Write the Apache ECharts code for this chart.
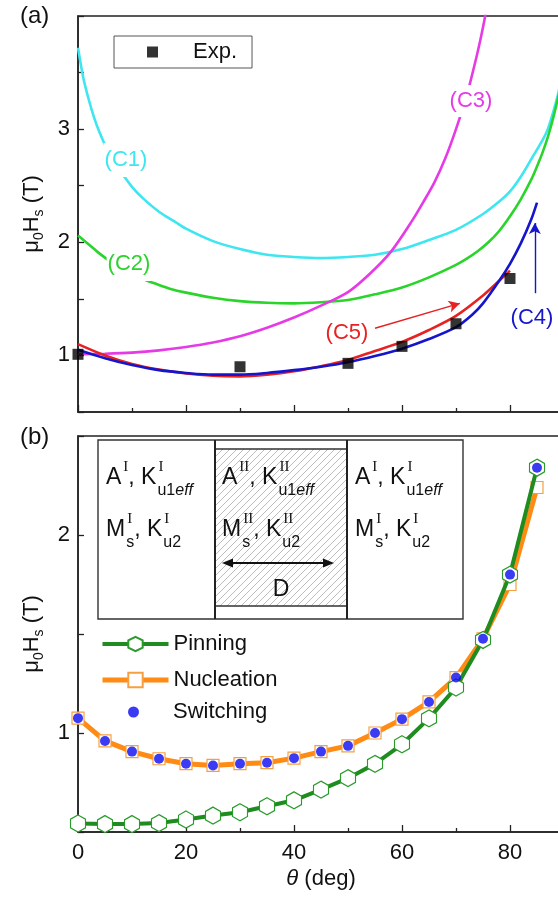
<!DOCTYPE html>
<html><head><meta charset="utf-8">
<script src="https://cdn.jsdelivr.net/npm/echarts@6/dist/echarts.min.js"></script>
<style>html,body{margin:0;padding:0;background:#fff}#c{width:558px;height:901px}</style>
</head><body><div id="c"></div>
<script>
const FONT = '"Liberation Sans", Arial, sans-serif';
const SERIF = '"Liberation Serif", "Times New Roman", serif';

// ---------- Panel (a) data: [theta, mu0Hs] ----------
const curveC1 = [[0,3.72],[1,3.45],[2,3.26],[3,3.10],[4,2.97],[6,2.76],[8,2.62],[10,2.49],[12,2.39],[15,2.27],[18,2.18],[20,2.12],[25,2.01],[30,1.94],[35,1.89],[40,1.87],[45,1.86],[50,1.87],[55,1.89],[60,1.94],[65,2.02],[70,2.11],[75,2.25],[78,2.36],[80,2.45],[82,2.58],[84,2.74],[86,2.90],[87,3.0],[88,3.15],[89,3.33],[90,3.6]];
const curveC2 = [[0,2.06],[1,2.02],[2,1.98],[3,1.94],[4,1.90],[6,1.83],[8,1.77],[10,1.72],[12,1.675],[14,1.64],[17,1.59],[20,1.555],[25,1.51],[30,1.48],[35,1.465],[40,1.46],[45,1.47],[50,1.49],[55,1.54],[60,1.60],[65,1.69],[70,1.80],[72,1.855],[74,1.92],[76,2.0],[78,2.10],[80,2.23],[82,2.38],[84,2.56],[85,2.67],[86,2.79],[87,2.93],[88,3.10],[89,3.30],[90,3.55]];
const curveC3 = [[0,1.01],[5,1.015],[10,1.025],[15,1.045],[20,1.075],[25,1.115],[30,1.17],[35,1.245],[40,1.335],[45,1.44],[50,1.56],[54,1.72],[58,1.92],[62,2.2],[64,2.36],[66,2.53],[68,2.74],[70,3.0],[72,3.3],[74,3.68],[75,3.9],[76,4.15]];
const curveC4 = [[0,1.05],[5,0.975],[10,0.915],[15,0.87],[20,0.845],[25,0.83],[30,0.83],[35,0.845],[40,0.87],[45,0.90],[50,0.94],[55,0.995],[60,1.06],[65,1.145],[70,1.25],[73,1.36],[75,1.46],[78,1.66],[80,1.81],[82,1.99],[84,2.21],[85,2.35]];
const curveC5 = [[0,1.10],[5,1.0],[10,0.925],[15,0.875],[20,0.84],[25,0.82],[30,0.815],[35,0.83],[40,0.86],[45,0.905],[50,0.96],[55,1.04],[60,1.12],[65,1.225],[70,1.35],[75,1.53],[78,1.66],[80,1.75]];
const expTheta = [0, 30, 50, 60, 70, 80];
const expH = [1.01, 0.90, 0.93, 1.08, 1.28, 1.68];
const arrowC5 = [[55, 1.24], [70.7, 1.46]];
const arrowC4 = [[84.6, 1.55], [84.6, 2.17]];

// ---------- Panel (b) data ----------
const thetaB = [0,5,10,15,20,25,30,35,40,45,50,55,60,65,70,75,80,85];
const pinning = [0.543,0.54,0.54,0.545,0.563,0.583,0.60,0.63,0.66,0.714,0.772,0.844,0.943,1.074,1.23,1.47,1.80,2.34];
const nucleation = [1.075,0.96,0.906,0.87,0.845,0.836,0.845,0.85,0.873,0.906,0.935,1.0,1.07,1.157,1.28,1.476,1.75,2.24];
const switching = [1.075,0.96,0.906,0.87,0.845,0.836,0.845,0.85,0.873,0.906,0.935,1.0,1.07,1.157,1.28,1.476,1.80,2.34];

const xTicks = [0, 20, 40, 60, 80];
const yTicksA = [1, 2, 3];
const yTicksB = [1, 2];

const zip = (a, b) => a.map((v, i) => [v, b[i]]);

const AXC = '#222';
function xAxisCfg(gi, showLabels) {
  return {
    type: 'value', gridIndex: gi, min: 0, max: 90, interval: 20,
    axisLine: { show: true, onZero: false, lineStyle: { color: AXC, width: 1.5 } },
    axisTick: { show: true, inside: true, length: 7, lineStyle: { color: AXC, width: 1.3 } },
    minorTick: { show: true, splitNumber: 2, length: 4, lineStyle: { color: AXC, width: 1.3 } },
    splitLine: { show: false },
    axisLabel: { show: showLabels, fontSize: 22, fontFamily: FONT, color: '#111', margin: 10,
      formatter: v => xTicks.indexOf(v) >= 0 ? String(v) : '' },
    name: showLabels ? '{i|θ}{m| (deg)}' : '',
    nameLocation: 'middle', nameGap: 36,
    nameTextStyle: { rich: {
      i: { fontSize: 22, fontStyle: 'italic', fontFamily: FONT, color: '#111' },
      m: { fontSize: 22, fontFamily: FONT, color: '#111' } } }
  };
}
function yAxisCfg(gi, max, labels) {
  return {
    type: 'value', gridIndex: gi, min: 0.5, max: max, interval: 0.5,
    axisLine: { show: true, onZero: false, lineStyle: { color: AXC, width: 1.5 } },
    axisTick: { show: true, inside: true, length: 6, lineStyle: { color: AXC, width: 1.3 } },
    splitLine: { show: false },
    axisLabel: { fontSize: 22, fontFamily: FONT, color: '#111', margin: 8,
      formatter: v => labels.some(t => Math.abs(t - v) < 1e-6) ? String(Math.round(v)) : '' },
    name: '{m|μ}{s|0}{m|H}{s|s}{m| (T)}',
    nameLocation: 'middle', nameRotate: 90, nameGap: 32,
    nameTextStyle: { rich: {
      m: { fontSize: 22, fontFamily: FONT, color: '#111', lineHeight: 28 },
      s: { fontSize: 14, fontFamily: FONT, color: '#111', verticalAlign: 'bottom' } } }
  };
}
function curve(name, data, color, extra) {
  return Object.assign({
    name, type: 'line', xAxisIndex: 0, yAxisIndex: 0, data, smooth: 0.3,
    showSymbol: false, symbol: 'none', lineStyle: { color, width: 2.6 }, itemStyle: { color }, z: 3, silent: true
  }, extra || {});
}
function arrowMark(coords, color) {
  return { silent: true, symbol: ['none', 'arrow'], symbolSize: [9, 11], animation: false,
    lineStyle: { color, width: 1.4, type: 'solid' }, label: { show: false },
    data: [[{ coord: coords[0] }, { coord: coords[1] }]] };
}

// ---------- inset graphics ----------
const mctx = document.createElement('canvas').getContext('2d');
function tw(t, font) { mctx.font = font; return mctx.measureText(t).width; }
const BASE = '23px ' + FONT, SUP = '15px ' + SERIF, SUB = '16px ' + FONT, SUBI = 'italic 16px ' + FONT;
function txt(x, y, t, font, extra) {
  return { type: 'text', x, y, z: 110, silent: true,
    style: Object.assign({ text: t, font, fill: '#111', align: 'left', verticalAlign: 'middle' }, extra || {}) };
}
function buildLine(x, y, parts, out) {
  let cx = x;
  for (const p of parts) {
    out.push(txt(cx, y, p.b, BASE)); cx += tw(p.b, BASE) + 1;
    let w = 0;
    if (p.sup) { out.push(txt(cx + 1, y - 11, p.sup, SUP)); w = Math.max(w, tw(p.sup, SUP) + 1); }
    if (p.sub) {
      out.push(txt(cx, y + 13, p.sub, SUB)); let sw = tw(p.sub, SUB);
      if (p.subi) { out.push(txt(cx + sw, y + 13, p.subi, SUBI)); sw += tw(p.subi, SUBI); }
      w = Math.max(w, sw);
    }
    cx += w;
  }
}
const hatch = document.createElement('canvas'); hatch.width = 7; hatch.height = 7;
(function () { const g = hatch.getContext('2d'); g.strokeStyle = '#b5b5b5'; g.lineWidth = 0.9;
  g.beginPath(); g.moveTo(0, 7); g.lineTo(7, 0); g.moveTo(-1, 1); g.lineTo(1, -1); g.moveTo(6, 8); g.lineTo(8, 6); g.stroke(); })();

const graphics = [];
graphics.push(txt(20, 16, '(a)', '24px ' + FONT));
graphics.push(txt(20, 437, '(b)', '24px ' + FONT));
// curve labels
const lbl = (x, y, t, c, pad) => ({ type: 'text', x, y, z: 100, silent: true,
  style: { text: t, font: '22px ' + FONT, fill: c, align: 'center', verticalAlign: 'middle', backgroundColor: '#fff', padding: pad || [3, 1] } });
graphics.push(lbl(126, 160, '(C1)', '#3ee6ef', [6, 1]));
graphics.push(lbl(129, 264, '(C2)', '#2ad42a', [6, 1]));
graphics.push(lbl(471, 101, '(C3)', '#e63ae6', [5, 1]));
graphics.push(lbl(532, 318, '(C4)', '#1515cc', [1, 1]));
graphics.push(lbl(347, 333, '(C5)', '#e62222', [1, 1]));
// inset box
graphics.push({ type: 'rect', z: 105, silent: true, shape: { x: 98, y: 440, width: 365, height: 179 },
  style: { fill: '#fff', stroke: '#333', lineWidth: 1.4 } });
graphics.push({ type: 'rect', z: 106, silent: true, shape: { x: 215, y: 449, width: 132, height: 157 },
  style: { fill: { image: hatch, repeat: 'repeat' }, stroke: '#333', lineWidth: 1.3 } });
[215, 347].forEach(xx => graphics.push({ type: 'line', z: 107, silent: true,
  shape: { x1: xx, y1: 440, x2: xx, y2: 619 }, style: { stroke: '#222', lineWidth: 2 } }));
// D arrow
graphics.push({ type: 'line', z: 107, silent: true, shape: { x1: 228, y1: 563, x2: 328, y2: 563 }, style: { stroke: '#111', lineWidth: 2 } });
graphics.push({ type: 'polygon', z: 107, silent: true, shape: { points: [[222, 563], [233, 558.5], [233, 567.5]] }, style: { fill: '#111' } });
graphics.push({ type: 'polygon', z: 107, silent: true, shape: { points: [[334, 563], [323, 558.5], [323, 567.5]] }, style: { fill: '#111' } });
graphics.push(txt(281, 590, 'D', BASE, { align: 'center' }));
const cells = [[106, 'I'], [222, 'II'], [355, 'I']];
cells.forEach(([cx, r]) => {
  buildLine(cx, 478, [{ b: 'A', sup: r }, { b: ', K', sup: r, sub: 'u1', subi: 'eff' }], graphics);
  buildLine(cx, 530, [{ b: 'M', sup: r, sub: 's' }, { b: ', K', sup: r, sub: 'u2' }], graphics);
});

const hexPath = 'path://M0,-10L8.66,-5L8.66,5L0,10L-8.66,5L-8.66,-5Z';
const LTXT = { fontSize: 22, fontFamily: FONT, color: '#111' };

const option = {
  animation: false,
  backgroundColor: '#fff',
  textStyle: { fontFamily: FONT },
  grid: [
    { left: 78, top: 16, width: 486, height: 396, show: true, borderColor: AXC, borderWidth: 1.5,
      backgroundColor: 'transparent', containLabel: false, outerBoundsMode: 'none' },
    { left: 78, top: 436, width: 486, height: 396, show: true, borderColor: AXC, borderWidth: 1.5,
      backgroundColor: 'transparent', containLabel: false, outerBoundsMode: 'none' }
  ],
  xAxis: [xAxisCfg(0, false), xAxisCfg(1, true)],
  yAxis: [yAxisCfg(0, 4, yTicksA), yAxisCfg(1, 2.5, yTicksB)],
  legend: [
    { data: ['Exp.'], left: 114, top: 36, padding: [5, 15, 5, 33], itemWidth: 11, itemHeight: 11,
      borderColor: '#555', borderWidth: 1, selectedMode: false,
      textStyle: Object.assign({ padding: [0, 0, 0, 30] }, LTXT) },
    { data: ['Pinning', 'Nucleation'], left: 100, top: 633, orient: 'vertical', padding: 0,
      itemWidth: 66, itemHeight: 18, itemGap: 14, selectedMode: false,
      lineStyle: { width: 'inherit' }, textStyle: LTXT },
    { data: ['Switching'], left: 100, top: 701, orient: 'vertical', padding: [0, 0, 0, 28],
      itemWidth: 11, itemHeight: 11, selectedMode: false,
      textStyle: Object.assign({ padding: [0, 0, 0, 29] }, LTXT) }
  ],
  series: [
    curve('C1', curveC1, '#3ee6ef'),
    curve('C2', curveC2, '#2ad42a'),
    curve('C3', curveC3, '#e63ae6'),
    curve('C5', curveC5, '#e62222', { markLine: arrowMark(arrowC5, '#e62222'), z: 4 }),
    curve('C4', curveC4, '#1515cc', { markLine: arrowMark(arrowC4, '#1515cc'), z: 5 }),
    { name: 'Exp.', type: 'scatter', xAxisIndex: 0, yAxisIndex: 0, data: zip(expTheta, expH),
      symbol: 'rect', symbolSize: 11, itemStyle: { color: '#000' }, z: 10 },
    { name: 'Nucleation', type: 'line', xAxisIndex: 1, yAxisIndex: 1, data: zip(thetaB, nucleation),
      symbol: 'rect', symbolSize: 12, showSymbol: true,
      lineStyle: { color: '#ff8a14', width: 5 }, itemStyle: { color: '#fff', borderColor: '#f5a040', borderWidth: 1.2 }, z: 3 },
    { name: 'Pinning', type: 'line', xAxisIndex: 1, yAxisIndex: 1, data: zip(thetaB, pinning),
      symbol: hexPath, symbolSize: [15, 17], showSymbol: true,
      lineStyle: { color: '#1e8c1e', width: 4 }, itemStyle: { color: '#fff', borderColor: '#2a9a2a', borderWidth: 1.2 }, z: 4 },
    { name: 'Switching', type: 'scatter', xAxisIndex: 1, yAxisIndex: 1, data: zip(thetaB, switching),
      symbol: 'circle', symbolSize: 10, itemStyle: { color: '#0a0af0' }, z: 6 }
  ],
  graphic: { elements: graphics }
};
const chart = echarts.init(document.getElementById('c'), null, { renderer: 'canvas' });
chart.setOption(option);
</script></body></html>
